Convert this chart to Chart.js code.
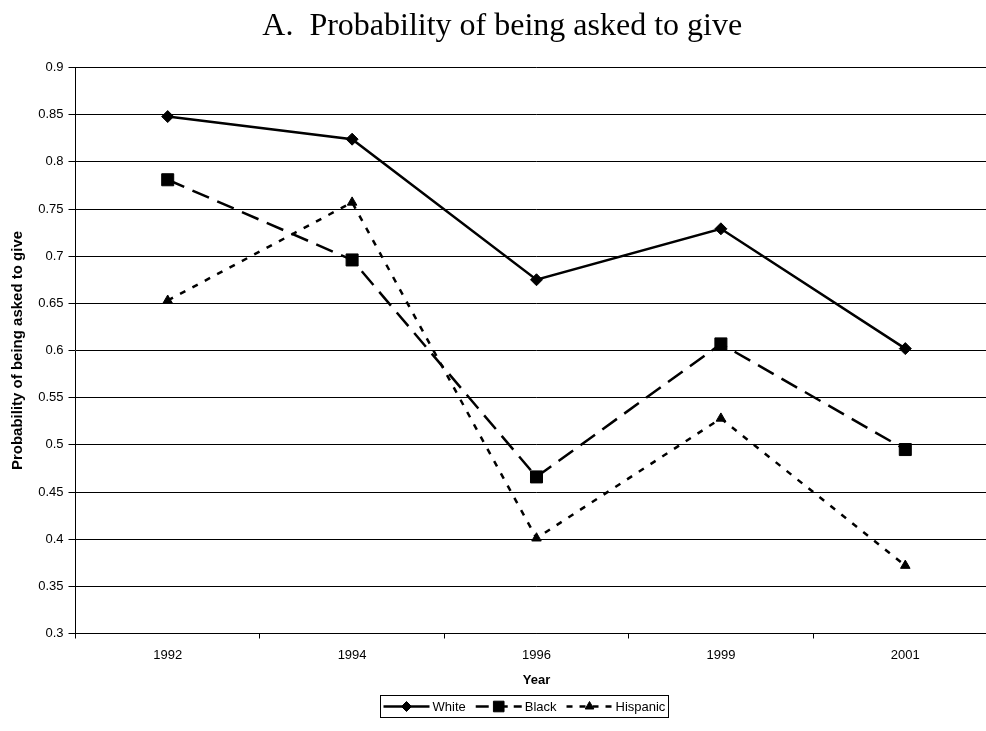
<!DOCTYPE html>
<html><head><meta charset="utf-8">
<script src="https://cdn.jsdelivr.net/npm/chart.js@4/dist/chart.umd.min.js"></script>
<style>html,body{margin:0;padding:0;background:#fff;overflow:hidden;width:986px;height:731px}</style>
</head><body>
<canvas id="c" width="1007" height="731" style="display:block;width:1007px;height:731px"></canvas>
<script>
const years = ['1992', '1994', '1996', '1999', '2001'];
const white = [0.848, 0.824, 0.675, 0.729, 0.602];
const black = [0.781, 0.696, 0.466, 0.607, 0.495];
const hispanic = [0.653, 0.757, 0.401, 0.528, 0.372];
const seriesNames = ['White', 'Black', 'Hispanic'];
const titleText = 'A.  Probability of being asked to give';
const yTitle = 'Probability of being asked to give';
const xTitle = 'Year';

Chart.defaults.font.family = "'Liberation Sans', Arial, sans-serif";
Chart.defaults.color = '#000';

const legendPlugin = {
  id: 'boxLegend',
  afterDraw(chart) {
    const ctx = chart.ctx;
    const left = 380.5, top = 695.5, h = 22, sample = 46, gap = 3, itemGap = 10;
    const cy = top + h / 2;
    ctx.save();
    ctx.font = "13px 'Liberation Sans', Arial, sans-serif";
    ctx.textBaseline = 'middle';
    ctx.fillStyle = '#000';
    let x = left + 3;
    chart.data.datasets.forEach(ds => {
      ctx.save();
      ctx.strokeStyle = '#000';
      ctx.lineWidth = ds.borderWidth;
      ctx.setLineDash(ds.legendDash || []);
      ctx.beginPath();
      ctx.moveTo(x, cy);
      ctx.lineTo(x + sample, cy);
      ctx.stroke();
      ctx.restore();
      ctx.save();
      ctx.fillStyle = '#000';
      ctx.strokeStyle = '#000';
      ctx.lineWidth = 1;
      Chart.helpers.drawPoint(ctx, {pointStyle: ds.pointStyle, radius: ds.legendRadius, borderWidth: 1, rotation: 0}, x + sample / 2, cy);
      ctx.restore();
      const tx = x + sample + gap;
      ctx.fillText(ds.label, tx, cy + 1);
      x = tx + ctx.measureText(ds.label).width + itemGap;
    });
    const right = Math.round(x - itemGap + 3) + 0.5;
    ctx.strokeStyle = '#000';
    ctx.lineWidth = 1;
    ctx.setLineDash([]);
    ctx.strokeRect(left, top, right - left, h);
    ctx.restore();
  }
};

new Chart(document.getElementById('c'), {
  type: 'line',
  data: {
    labels: years,
    datasets: [
      {label: seriesNames[0], data: white, borderColor: '#000', backgroundColor: '#000', borderWidth: 2.5,
       pointStyle: 'rectRot', pointRadius: 6, pointBorderWidth: 1, pointBackgroundColor: '#000', pointBorderColor: '#000',
       legendRadius: 5, tension: 0},
      {label: seriesNames[1], data: black, borderColor: '#000', backgroundColor: '#000', borderWidth: 2.5, borderDash: [18, 9],
       pointStyle: 'rect', pointRadius: 8.5, pointBorderWidth: 1, pointBackgroundColor: '#000', pointBorderColor: '#000',
       legendRadius: 7.5, legendDash: [13, 6], tension: 0},
      {label: seriesNames[2], data: hispanic, borderColor: '#000', backgroundColor: '#000', borderWidth: 2.5, borderDash: [6, 8],
       pointStyle: 'triangle', pointRadius: 5.5, pointBorderWidth: 1, pointBackgroundColor: '#000', pointBorderColor: '#000',
       legendRadius: 5, legendDash: [6, 7], tension: 0}
    ]
  },
  options: {
    responsive: false,
    animation: false,
    layout: {padding: {left: 0, right: 2.5, top: 0, bottom: 40.5}},
    plugins: {
      legend: {display: false},
      tooltip: {enabled: false},
      title: {
        display: true, text: titleText, color: '#000',
        font: {family: "'Liberation Serif', 'Times New Roman', serif", size: 32, weight: 'normal'},
        padding: {top: 7, bottom: 22.1}
      }
    },
    scales: {
      x: {
        offset: true,
        afterFit: s => { s.height = 57; },
        grid: {offset: true, drawOnChartArea: false, drawTicks: true, tickLength: 5, color: '#000', lineWidth: 1},
        border: {display: true, color: '#000', width: 1},
        ticks: {font: {size: 13}, padding: 9, color: '#000', maxRotation: 0},
        title: {display: true, text: xTitle, font: {size: 13, weight: 'bold'}, padding: {top: 0, bottom: 2.5}}
      },
      y: {
        min: 0.3, max: 0.9,
        afterFit: s => { s.width = 75.5; },
        grid: {drawOnChartArea: true, drawTicks: true, tickLength: 7, color: '#000', lineWidth: 1},
        border: {display: true, color: '#000', width: 1},
        ticks: {stepSize: 0.05, font: {size: 13}, padding: 5, color: '#000',
                callback: v => String(+v.toFixed(2))},
        title: {display: true, text: yTitle, font: {size: 15, weight: 'bold'}, padding: {top: 9, bottom: 0}}
      }
    }
  },
  plugins: [legendPlugin]
});
</script>
</body></html>
